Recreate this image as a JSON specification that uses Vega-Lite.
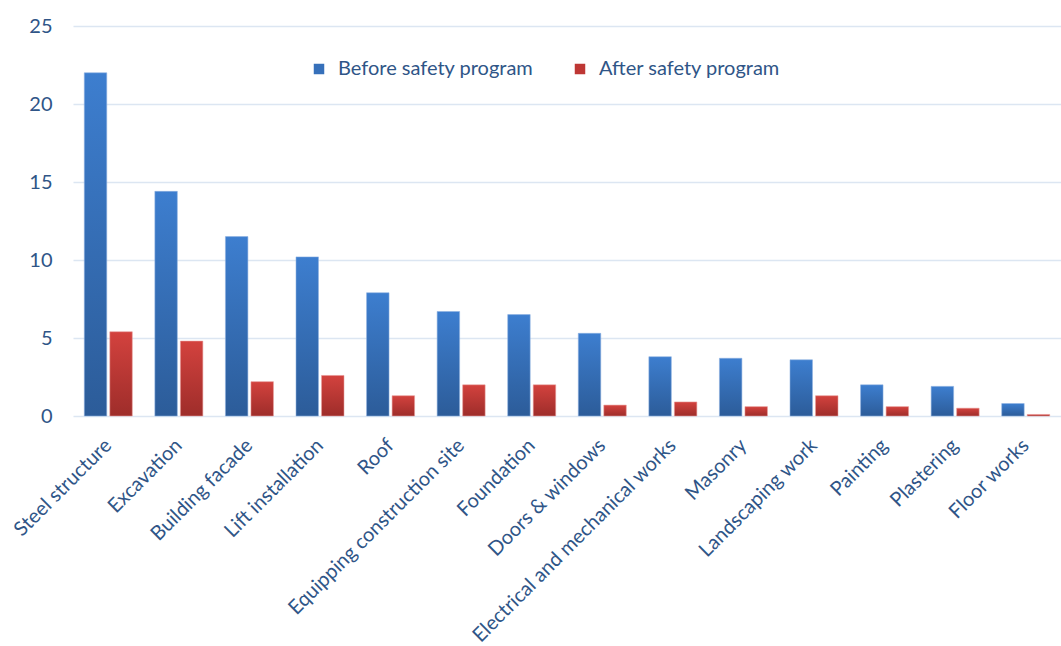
{
  "$schema": "https://vega.github.io/schema/vega-lite/v6.json",
  "autosize": "none",
  "width": 988,
  "height": 390,
  "padding": {"left": 73, "top": 26, "right": 0, "bottom": 230},
  "background": "white",
  "config": {
    "view": {"stroke": null},
    "font": "Lato",
    "axis": {"labelFont": "Lato", "labelColor": "#2F5587", "labelFontSize": 20},
    "legend": {"labelFont": "Lato"}
  },
  "data": {
    "values": [
      {"activity": "Steel structure", "series": "Before safety program", "value": 22.0},
      {"activity": "Steel structure", "series": "After safety program", "value": 5.4},
      {"activity": "Excavation", "series": "Before safety program", "value": 14.4},
      {"activity": "Excavation", "series": "After safety program", "value": 4.8},
      {"activity": "Building facade", "series": "Before safety program", "value": 11.5},
      {"activity": "Building facade", "series": "After safety program", "value": 2.2},
      {"activity": "Lift installation", "series": "Before safety program", "value": 10.2},
      {"activity": "Lift installation", "series": "After safety program", "value": 2.6},
      {"activity": "Roof", "series": "Before safety program", "value": 7.9},
      {"activity": "Roof", "series": "After safety program", "value": 1.3},
      {"activity": "Equipping construction site", "series": "Before safety program", "value": 6.7},
      {"activity": "Equipping construction site", "series": "After safety program", "value": 2.0},
      {"activity": "Foundation", "series": "Before safety program", "value": 6.5},
      {"activity": "Foundation", "series": "After safety program", "value": 2.0},
      {"activity": "Doors & windows", "series": "Before safety program", "value": 5.3},
      {"activity": "Doors & windows", "series": "After safety program", "value": 0.7},
      {"activity": "Electrical and mechanical works", "series": "Before safety program", "value": 3.8},
      {"activity": "Electrical and mechanical works", "series": "After safety program", "value": 0.9},
      {"activity": "Masonry", "series": "Before safety program", "value": 3.7},
      {"activity": "Masonry", "series": "After safety program", "value": 0.6},
      {"activity": "Landscaping work", "series": "Before safety program", "value": 3.6},
      {"activity": "Landscaping work", "series": "After safety program", "value": 1.3},
      {"activity": "Painting", "series": "Before safety program", "value": 2.0},
      {"activity": "Painting", "series": "After safety program", "value": 0.6},
      {"activity": "Plastering", "series": "Before safety program", "value": 1.9},
      {"activity": "Plastering", "series": "After safety program", "value": 0.5},
      {"activity": "Floor works", "series": "Before safety program", "value": 0.8},
      {"activity": "Floor works", "series": "After safety program", "value": 0.1}
    ]
  },
  "encoding": {
    "x": {
      "field": "activity", "type": "nominal", "sort": null, "title": null,
      "scale": {"paddingInner": 0.32, "paddingOuter": 0.16},
      "axis": {"labelAngle": -45, "domain": false, "ticks": false, "labelPadding": 19, "labelOffset": -7, "labelLimit": 0}
    },
    "y": {
      "field": "value", "type": "quantitative", "title": null,
      "scale": {"domain": [0, 25], "nice": false},
      "axis": {"values": [0, 5, 10, 15, 20, 25], "domain": false, "ticks": false, "gridColor": "#DCE6F2", "gridWidth": 1.3, "labelPadding": 21}
    },
    "xOffset": {"field": "series", "type": "nominal", "sort": ["Before safety program", "After safety program"], "scale": {"paddingInner": 0.12}}
  },
  "layer": [
    {
      "transform": [{"filter": "datum.series === 'Before safety program'"}],
      "mark": {
        "type": "bar",
        "stroke": "#8CB0E0", "strokeWidth": 0.8, "strokeOpacity": 0.7,
        "fill": {"x1": 0, "y1": 0, "x2": 0, "y2": 1, "gradient": "linear",
          "stops": [{"offset": 0, "color": "#3D7ECF"}, {"offset": 1, "color": "#2C5C99"}]}
      }
    },
    {
      "transform": [{"filter": "datum.series === 'After safety program'"}],
      "mark": {
        "type": "bar",
        "stroke": "#E89A98", "strokeWidth": 0.8, "strokeOpacity": 0.7,
        "fill": {"x1": 0, "y1": 0, "x2": 0, "y2": 1, "gradient": "linear",
          "stops": [{"offset": 0, "color": "#D3423E"}, {"offset": 1, "color": "#9E2D2A"}]}
      }
    },
    {
      "mark": {"type": "point", "shape": "square", "filled": true, "opacity": 0},
      "encoding": {
        "color": {
          "field": "series", "type": "nominal", "title": null,
          "sort": ["Before safety program", "After safety program"],
          "scale": {"domain": ["Before safety program", "After safety program"], "range": ["#3670BA", "#BE3734"]},
          "legend": {
            "orient": "none", "legendX": 236, "legendY": 33, "direction": "horizontal",
            "symbolType": "square", "symbolSize": 110, "symbolOpacity": 1,
            "labelFontSize": 20, "labelColor": "#2F5587", "columnPadding": 36, "labelOffset": 9, "labelLimit": 0
          }
        }
      }
    }
  ]
}
